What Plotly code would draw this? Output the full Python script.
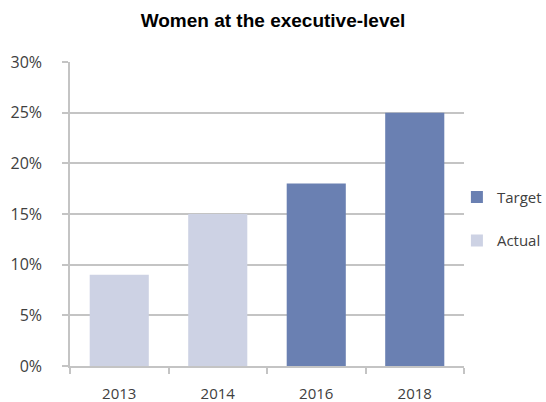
import plotly.graph_objects as go

categories = ["2013", "2014", "2016", "2018"]
actual_years = ["2013", "2014"]
actual_values = [0.09, 0.15]
target_years = ["2016", "2018"]
target_values = [0.18, 0.25]
y_ticks = [0, 0.05, 0.10, 0.15, 0.20, 0.25, 0.30]
y_tick_labels = ["0%", "5%", "10%", "15%", "20%", "25%", "30%"]

fig = go.Figure()
fig.add_trace(go.Bar(name="Target", x=target_years, y=target_values,
                     marker=dict(color="#6a80b2", line=dict(width=0)),
                     legendgroup="t"))
fig.add_trace(go.Bar(name="Actual", x=actual_years, y=actual_values,
                     marker=dict(color="#cdd2e4", line=dict(width=0)),
                     legendgroup="a"))

axis_col = "#c4c4c4"
font_family = "Open Sans, Noto Sans, sans-serif"
tick_font = dict(family=font_family, size=16, color="#404040")
x_font = dict(family=font_family, size=15, color="#404040")
legend_font = dict(family=font_family, size=15, color="#404040")

fig.update_layout(
    width=546, height=402,
    paper_bgcolor="white", plot_bgcolor="white",
    margin=dict(l=70, r=82, t=62, b=36, autoexpand=False),
    barmode="relative", bargap=0.4,
    title=dict(text="<b>Women at the executive-level</b>", x=0.5, xanchor="center",
               y=0.95, yanchor="middle",
               font=dict(family="Liberation Sans, Arial, sans-serif", size=19, color="black")),
    legend=dict(x=0.982, xanchor="left", y=0.484, yanchor="middle",
                traceorder="grouped", tracegroupgap=21,
                font=legend_font, bgcolor="rgba(0,0,0,0)"),
    xaxis=dict(type="category", categoryorder="array", categoryarray=categories,
               showline=True, linecolor=axis_col, linewidth=1.5,
               ticks="outside", tickson="boundaries", ticklen=6, tickcolor=axis_col,
               tickwidth=1.5, tickfont=x_font, showgrid=False,
               ticklabelstandoff=13),
    yaxis=dict(range=[0, 0.30], tickvals=y_ticks, ticktext=y_tick_labels,
               showline=True, linecolor=axis_col, linewidth=1.5,
               ticks="outside", ticklen=6, tickcolor=axis_col, tickwidth=1.5,
               showgrid=True, gridcolor=axis_col, gridwidth=1.5,
               zeroline=False, tickfont=tick_font, ticklabelstandoff=17),
)

fig.write_html("out.html",
               config={"displayModeBar": False},
               post_script="document.body.style.margin='0';document.body.style.overflow='hidden';")
